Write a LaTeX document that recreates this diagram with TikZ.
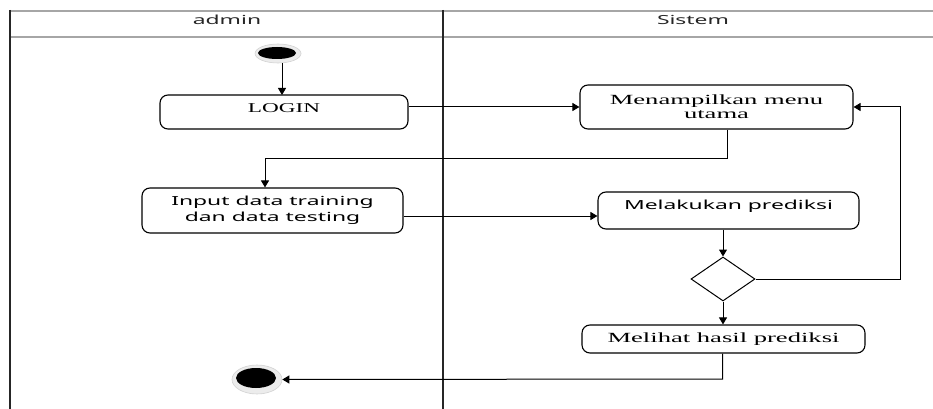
\documentclass[tikz,border=0pt]{standalone}
\usepackage{fontspec}
\usetikzlibrary{arrows.meta,shapes.geometric}
\newfontfamily\serifw[FakeStretch=1.9]{Liberation Serif}
\newfontfamily\serifl[FakeStretch=1.72]{Liberation Serif}
\newfontfamily\sansw[FakeStretch=1.83]{Noto Sans}
\begin{document}
\begin{tikzpicture}[x=1pt,y=-1pt,
  actbox/.style={draw, rounded corners=8pt, line width=1.1pt, inner sep=0pt, align=center},
  sertext/.style={font=\serifw\fontsize{14}{14}\selectfont},
  santext/.style={font=\sansw\fontsize{12.5}{16}\selectfont, text=black},
  flow/.style={draw, line width=1pt, -{Triangle[width=8pt,length=7pt]}},
  lanev/.style={line width=1.6pt, black!85},
  laneh/.style={line width=1.8pt, gray!70},
  header/.style={font=\sansw\fontsize{12.5}{12.5}\selectfont, text=black!85},
  halo/.style={ellipse, fill=gray!15, draw=gray!35, line width=0.6pt, inner sep=0pt},
  core/.style={ellipse, fill=black, inner sep=0pt}]
\useasboundingbox (0,0) rectangle (933,409);
% swimlanes
\draw[laneh] (10,11) -- (933,11);
\draw[laneh] (10,37) -- (933,37);
\draw[lanev] (10,10) -- (10,409);
\draw[lanev] (443,10) -- (443,409);
\node[header] (hadmin) at (227,20) {admin};
\node[header] (hsistem) at (693,20) {Sistem};
% start / end
\node[halo, minimum width=46pt, minimum height=19pt] (start) at (278,53.5) {};
\node[core, minimum width=38pt, minimum height=12pt] (startcore) at (277,53) {};
\node[halo, minimum width=50pt, minimum height=29pt] (end) at (257,379.5) {};
\node[core, minimum width=40pt, minimum height=20pt] (endcore) at (256,378) {};
% activities
\node[actbox, minimum width=248pt, minimum height=34pt, font=\serifl\fontsize{13.5}{13.5}\selectfont, text height=9pt, text depth=7pt] (login) at (284,112) {LOGIN};
\node[actbox, sertext, minimum width=273pt, minimum height=44pt] (menu) at (716.5,107) {Menampilkan menu\\utama};
\node[actbox, santext, minimum width=261pt, minimum height=45pt] (input) at (272.5,210.5) {Input data training\\dan data testing};
\node[actbox, santext, minimum width=261pt, minimum height=37pt, text height=9pt, text depth=12pt] (pred) at (728.5,210.5) {Melakukan prediksi};
\node[diamond, draw, line width=1pt, aspect=1.45, minimum width=64pt, minimum height=44pt, inner sep=0pt] (dia) at (723,279) {};
\node[actbox, sertext, minimum width=283pt, minimum height=28pt] (lihat) at (723.5,339) {Melihat hasil prediksi};
% helper coordinates
\coordinate (c1) at (727,158);
\coordinate (c2) at (265,158);
\coordinate (c3) at (500,216);
\coordinate (c5) at (900,107);
\coordinate (c6) at (722.5,379);
% connectors
\draw[flow] (start.south -| 282,0) -- (282,95);
\draw[flow] (menu.west -| login.east) -- (menu.west);
\draw[flow] (menu.south -| c1) -- (c1) -- (c2) -- (input.north -| c2);
\draw[flow] (input.east |- c3) -- (pred.west |- c3);
\draw[flow] (dia.north |- pred.south) -- (dia.north);
\draw[flow] (dia.south) -- (dia.south |- lihat.north);
\draw[flow] (dia.east) -- (dia.east -| c5) -- (c5) -- (menu.east);
\draw[flow] (lihat.south -| c6) -- (c6) -- (end.east);
\end{tikzpicture}
\end{document}
